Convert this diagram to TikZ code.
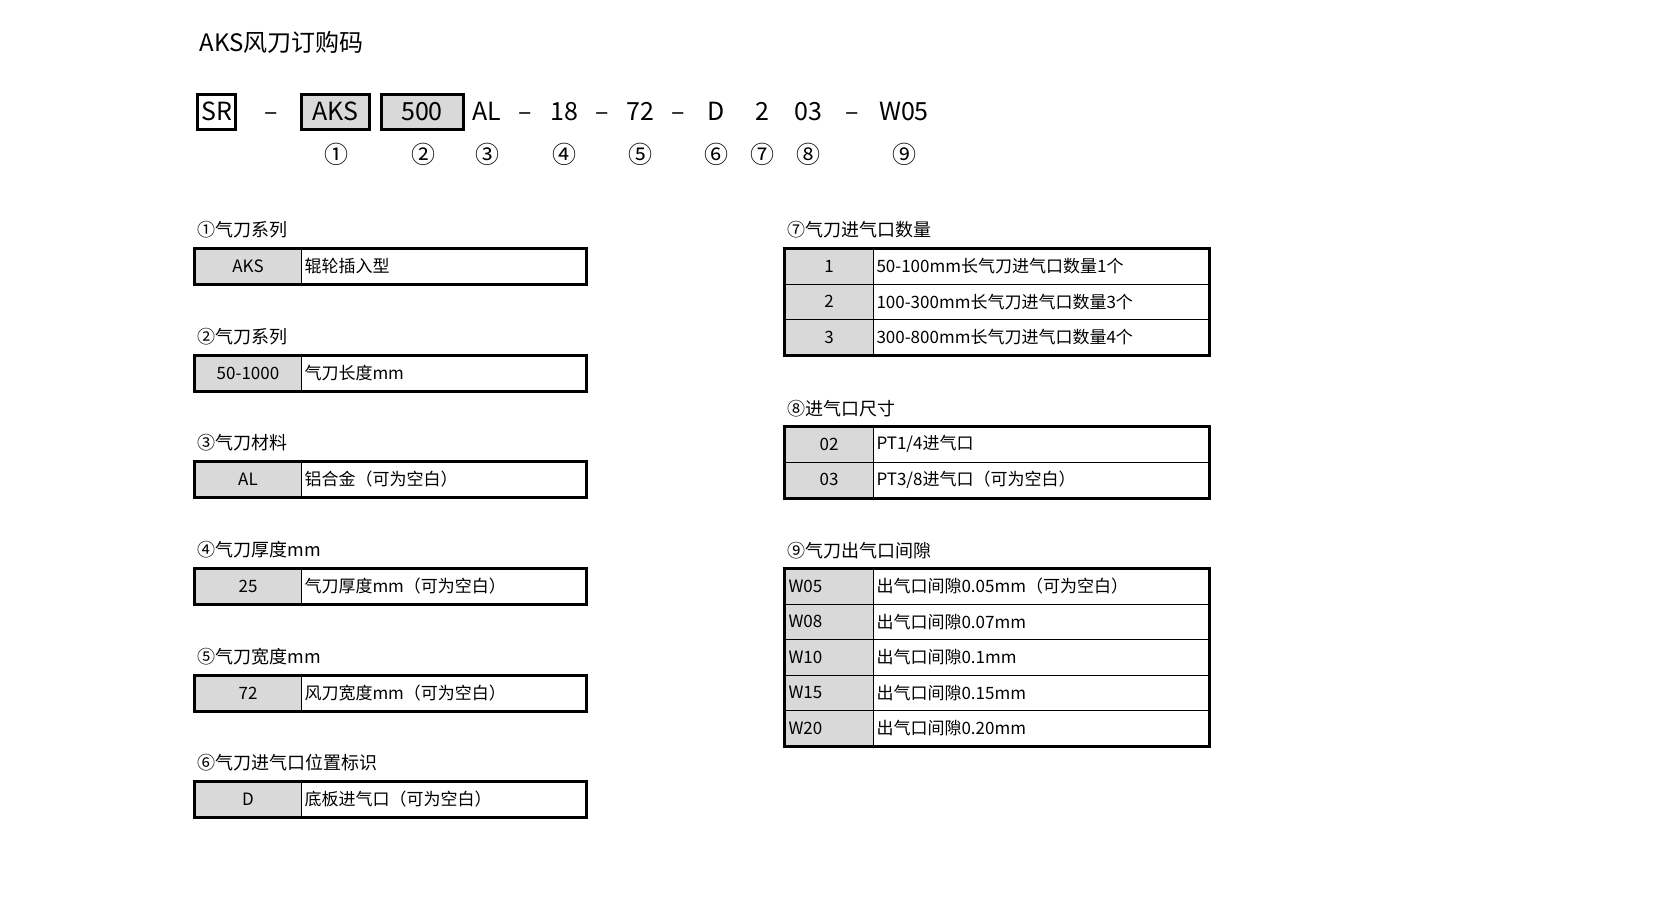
\documentclass[tikz,border=0pt]{standalone}
\usepackage{fontspec}
\setmainfont{Noto Sans CJK SC}
\definecolor{cellgrey}{RGB}{217,217,217}
\tikzset{every picture/.style={line width=1pt}}
\tikzset{
  keycell/.style={draw,fill=cellgrey,anchor=north west,inner sep=0pt,minimum height=35.5pt,font=\fontsize{17}{19}\selectfont},
  desccell/.style={draw,fill=white,anchor=north west,inner sep=3pt,minimum height=35.5pt,text width=#1,align=left,font=\fontsize{17}{19}\selectfont},
  headtext/.style={anchor=west,inner sep=0pt,font=\fontsize{18}{20}\selectfont},
  codetext/.style={inner sep=0pt,text height=18pt,text depth=0pt,font=\fontsize{25}{28}\selectfont},
  codebox/.style={draw,line width=3pt,minimum height=35pt,inner sep=4pt,text height=18pt,text depth=0pt,font=\fontsize{25}{28}\selectfont},
  circnum/.style={inner sep=0pt,font=\fontsize{24}{26}\selectfont}
}
\begin{document}
\begin{tikzpicture}[x=1pt,y=1pt,yscale=-1]
\useasboundingbox (0,0) rectangle (1653,915);
% title
\node[anchor=west,inner sep=0pt,font=\fontsize{24}{26}\selectfont] (title) at (199,42) {AKS风刀订购码};
% code row
\node[codebox] (sr) at (216.5,112) {SR};
\node[codetext] (d1) at (271,112) {–};
\node[codebox,fill=cellgrey,minimum width=68pt] (aks) at (335,112) {AKS};
\node[codebox,fill=cellgrey,minimum width=82pt] (len) at (422,112) {500};
\node[codetext] (al) at (487,112) {AL};
\node[codetext] (d2) at (525,112) {–};
\node[codetext] (th) at (564,112) {18};
\node[codetext] (d3) at (602,112) {–};
\node[codetext] (wd) at (640,112) {72};
\node[codetext] (d4) at (678,112) {–};
\node[codetext] (pos) at (716,112) {D};
\node[codetext] (qty) at (762,112) {2};
\node[codetext] (port) at (808,112) {03};
\node[codetext] (d5) at (852,112) {–};
\node[codetext] (gap) at (904,112) {W05};
\foreach \n/\x in {①/336,②/423,③/487,④/564,⑤/640,⑥/716,⑦/762,⑧/808,⑨/904}
  \node[circnum] at (\x,154) {\n};
% left tables
\foreach \i/\y/\h/\k/\d in {1/248/①气刀系列/AKS/辊轮插入型,
    2/355/②气刀系列/50-1000/气刀长度mm,
    3/461/③气刀材料/AL/铝合金（可为空白）,
    4/568/④气刀厚度mm/25/气刀厚度mm（可为空白）,
    5/675/⑤气刀宽度mm/72/风刀宽度mm（可为空白）,
    6/781/⑥气刀进气口位置标识/D/底板进气口（可为空白）}{
  \node[headtext] (lh\i) at (197,\y-18) {\h};
  \node[keycell,minimum width=107pt] (lk\i) at (194,\y) {\k};
  \node[desccell=278pt] (ld\i) at (301,\y) {\d};
  \draw[line width=3pt] (lk\i.north west) rectangle (ld\i.south east);
}
% right tables
\foreach \i/\y/\k/\d in {1/248/1/50-100mm长气刀进气口数量1个,
    2/283.5/2/100-300mm长气刀进气口数量3个,
    3/319/3/300-800mm长气刀进气口数量4个}{
  \node[keycell,minimum width=89pt] (qk\i) at (784,\y) {\k};
  \node[desccell=329pt] (qd\i) at (873,\y) {\d};
}
\node[headtext] (qh) at (787,230) {⑦气刀进气口数量};
\draw[line width=3pt] (qk1.north west) rectangle (qd3.south east);
\foreach \i/\y/\k/\d in {1/426/02/{PT1/4进气口},
    2/461.5/03/{PT3/8进气口（可为空白）}}{
  \node[keycell,minimum width=89pt] (pk\i) at (784,\y) {\k};
  \node[desccell=329pt] (pd\i) at (873,\y) {\d};
}
\node[headtext] (ph) at (787,409) {⑧进气口尺寸};
\draw[line width=3pt] (pk1.north west) rectangle (pd2.south east);
\foreach \i/\y/\k/\d in {1/568/W05/出气口间隙0.05mm（可为空白）,
    2/603.5/W08/出气口间隙0.07mm,
    3/639/W10/出气口间隙0.1mm,
    4/674.5/W15/出气口间隙0.15mm,
    5/710/W20/出气口间隙0.20mm}{
  \node[keycell,minimum width=89pt,text width=81pt,align=left] (gk\i) at (784,\y) {\k};
  \node[desccell=329pt] (gd\i) at (873,\y) {\d};
}
\node[headtext] (gh) at (787,551) {⑨气刀出气口间隙};
\draw[line width=3pt] (gk1.north west) rectangle (gd5.south east);
\end{tikzpicture}
\end{document}
